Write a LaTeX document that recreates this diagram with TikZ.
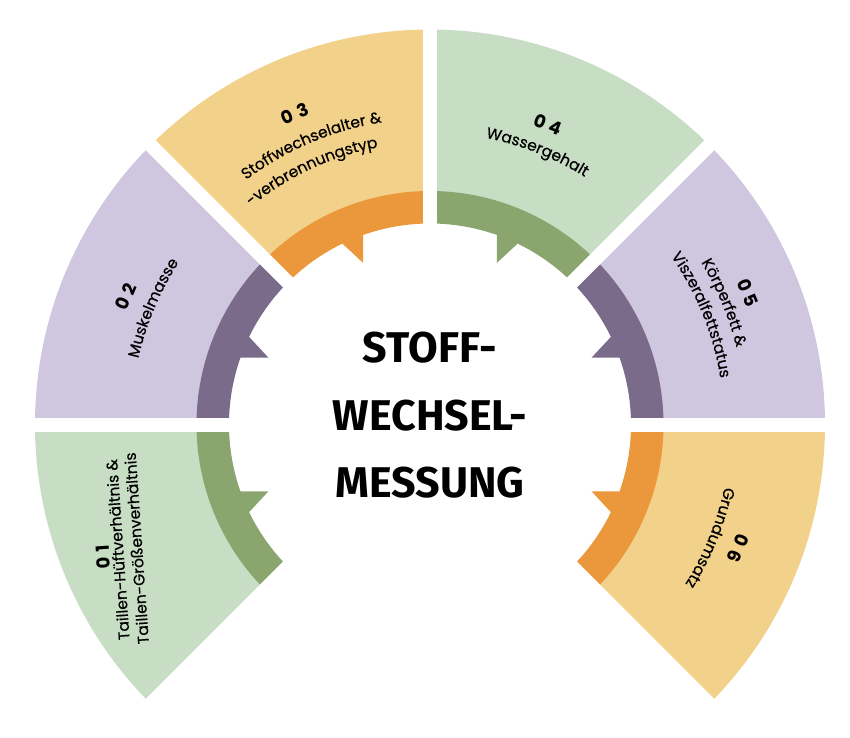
\documentclass[tikz,border=0pt]{standalone}
\usepackage{fontspec}
\setmainfont{Poppins}
\newfontfamily\centerfont{Fira Sans}
\newfontfamily\lblfam[FakeBold=0.4]{Poppins}
\usetikzlibrary{decorations.text}
\definecolor{grnL}{HTML}{C7DEC5}
\definecolor{grnD}{HTML}{8AA66E}
\definecolor{purL}{HTML}{CFC6DF}
\definecolor{purD}{HTML}{7A6B8B}
\definecolor{yelL}{HTML}{F2D18A}
\definecolor{orD}{HTML}{EB983D}
\newcommand{\lblfont}{\lblfam\fontsize{15.5}{19}\selectfont}
\newcommand{\numfont}{\fontsize{18}{20}\selectfont\bfseries}
\newcommand{\nsp}{\hspace{5pt}}
\begin{document}
\begin{tikzpicture}[x=1pt,y=1pt,
  numtxt/.style={font=\numfont, inner sep=0pt},
  lbltxt/.style={font=\lblfont, inner sep=0pt},
  gapline/.style={line width=14pt, white},
  centertxt/.style={font=\centerfont\fontsize{43}{50}\selectfont\bfseries, anchor=base, inner sep=0pt},
  arclabel/.style={decorate, decoration={text along path, text align=center, text={|\lblfont|#1}}}]
\useasboundingbox (-430,-312.5) rectangle (420,424.5);
% segments: start angle / light / dark / axis of the straight tooth edge / side of the slanted edge
\foreach \a/\lc/\dc/\ax/\s in {180/grnL/grnD/180/1, 135/purL/purD/180/-1, 90/yelL/orD/90/1, 45/grnL/grnD/90/-1, 0/purL/purD/0/1, -45/yelL/orD/0/-1} {
  \pgfmathsetmacro{\b}{\a+45}
  \pgfmathsetmacro{\m}{\a+22.5}
  \pgfmathsetmacro{\bt}{\m+\s*4.5}
  \fill[\lc] (\a:395) arc[start angle=\a, end angle=\b, radius=395pt] -- (\b:233) arc[start angle=\b, end angle=\a, radius=233pt] -- cycle;
  \fill[\dc] (\a:233.5) arc[start angle=\a, end angle=\b, radius=233.5pt] -- (\b:201) arc[start angle=\b, end angle=\a, radius=201pt] -- cycle;
  \fill[\dc] (\m:175) -- ++(\ax:39.5) -- (\bt:212) -- cycle;
}
% gaps
\foreach \g in {-45,0,45,90,135,180,225} {
  \draw[gapline] (0,0) -- (\g:400);
}
% centre
\node[centertxt] (c1) at (0,62.5) {STOFF-};
\node[centertxt] (c2) at (0,-5.5) {WECHSEL-};
\node[centertxt] (c3) at (0,-72.5) {MESSUNG};
% 03
\node[numtxt, rotate=23.5] (n3) at (113.5:339) {0\nsp3};
\path[arclabel={Stoffwechselalter {\&}}] (143:306) arc[start angle=143, end angle=83, radius=306pt];
\path[arclabel={-verbrennungstyp}] (145:282) arc[start angle=145, end angle=85, radius=282pt];
% 04
\node[numtxt, rotate=-21.5] (n4) at (68.5:322) {0\nsp4};
\path[arclabel={Wassergehalt}] (98.5:292) arc[start angle=98.5, end angle=38.5, radius=292pt];
% 02
\node[numtxt, rotate=67.2] (n2) at (157.2:330) {0\nsp2};
\path[arclabel={Muskelmasse}] (187.2:299) arc[start angle=187.2, end angle=127.2, radius=299pt];
% 05
\node[numtxt, rotate=-67.5] (n5) at (22.5:344) {0\nsp5};
\path[arclabel={Körperfett {\&}}] (52.5:316) arc[start angle=52.5, end angle=-7.5, radius=316pt];
\path[arclabel={Viszeralfettstatus}] (52:294) arc[start angle=52, end angle=-8, radius=294pt];
% 06
\node[numtxt, rotate=-111.9] (n6) at (-21.9:332) {0\nsp6};
\path[arclabel={Grundumsatz}] (8:301) arc[start angle=8, end angle=-52, radius=301pt];
% 01
\node[numtxt, rotate=94] (n1) at (-327,-132.5) {0\nsp1};
\node[lbltxt, rotate=94, align=center] (l1) at (-303,-124.5) {Taillen-Hüftverhältnis \&\\Taillen-Größenverhältnis};
\end{tikzpicture}
\end{document}
